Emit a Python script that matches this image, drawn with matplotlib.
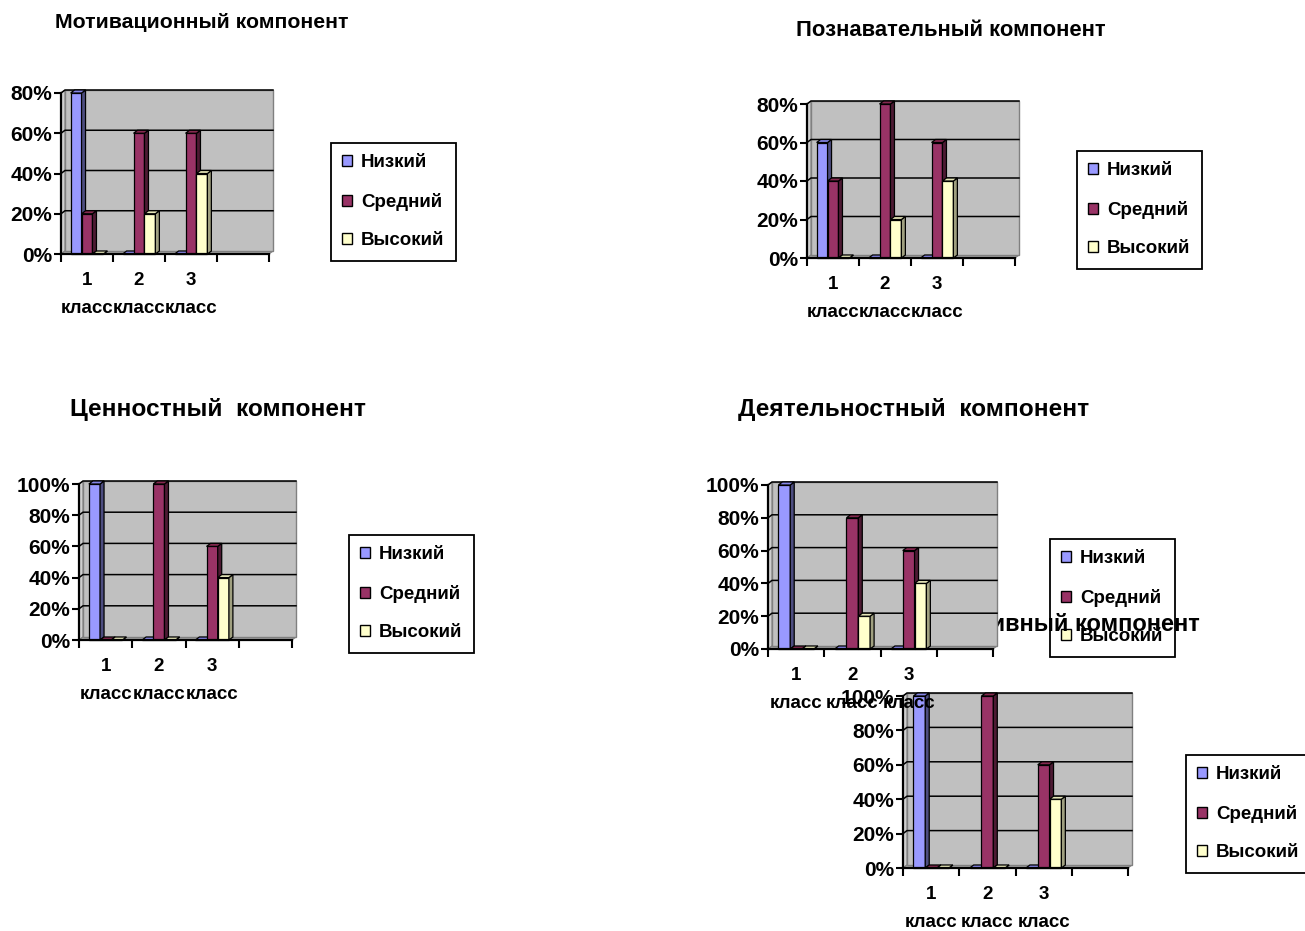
import matplotlib
matplotlib.use("Agg")
import matplotlib.pyplot as plt
from matplotlib.patches import Polygon, Patch

plt.rcParams['font.family'] = ['Liberation Sans', 'DejaVu Sans']
plt.rcParams['font.weight'] = 'bold'

# ---- данные ----
CLASSES = ["1 класс", "2 класс", "3 класс", ""]      # 4-я колонка пустая, как в исходной таблице
LEVELS = ["Низкий", "Средний", "Высокий"]
TITLES = ["Мотивационный компонент", "Познавательный компонент", "Ценностный  компонент",
          "Деятельностный  компонент", "Рефлексивный компонент"]
LOW = [[0.8, 0, 0], [0.6, 0, 0], [1.0, 0, 0], [1.0, 0, 0], [1.0, 0, 0]]
MID = [[0.2, 0.6, 0.6], [0.4, 0.8, 0.6], [0, 1.0, 0.6], [0, 0.8, 0.6], [0, 1.0, 0.6]]
HIGH = [[0, 0.2, 0.4], [0, 0.2, 0.4], [0, 0, 0.4], [0, 0.2, 0.4], [0, 0, 0.4]]
YMAX = [0.8, 0.8, 1.0, 1.0, 1.0]

# ---- оформление (пиксели исходной картинки) ----
W, H = 1305, 931
AX_PX = [(61, 269, 254, 93), (807, 1015, 258, 104), (79, 292, 640, 484),
         (768, 993, 649, 485), (903, 1128, 868, 696)]       # x оси, x конца, y нуля, y максимума
LEG_PX = [(331, 143), (1077, 151), (349, 535), (1050, 539), (1186, 755)]
TITLE_PX = [(55, 22, 'left'), (951, 30, 'center'), (218, 410, 'center'),
            (914, 410, 'center'), (1200, 625, 'right')]
TITLE_FS = [15.3, 15.8, 17.6, 17.6, 17.0]
FACE = ['#9999FF', '#993366', '#FFFFCC']
SIDE = ['#4D4D80', '#4D1A33', '#A0A080']
TOP = ['#8585E6', '#85294F', '#E6E6B8']
DX, DY = 4, 3          # глубина "3D" в пикселях
BW = 0.21
FS_X = 13.5
FS_Y = 15
FS_LEG = 13.5

fig = plt.figure(figsize=(W / 100, H / 100), dpi=100)
fig.patch.set_facecolor('white')


def chart(i):
    x0, x1, yb, yt = AX_PX[i]
    ax = fig.add_axes([x0 / W, 1 - yb / H, (x1 - x0) / W, (yb - yt) / H])
    ax.set_facecolor('none')
    n = len(CLASSES)
    ymax = YMAX[i]
    ax.set_xlim(0, n)
    ax.set_ylim(0, ymax)
    ddx = DX * n / (x1 - x0)
    ddy = DY * ymax / (yb - yt)
    # стенки и пол
    ax.add_patch(Polygon([(0, 0), (ddx, ddy), (ddx, ymax + ddy), (0, ymax)], closed=True,
                         fc='#CFCFCF', ec='#808080', lw=0.8, clip_on=False, zorder=1))
    ax.add_patch(Polygon([(0, 0), (n, 0), (n + ddx, ddy), (ddx, ddy)], closed=True,
                         fc='#A8A8A8', ec='#808080', lw=0.8, clip_on=False, zorder=1))
    ax.add_patch(Polygon([(ddx, ddy), (n + ddx, ddy), (n + ddx, ymax + ddy), (ddx, ymax + ddy)],
                         closed=True, fc='#C0C0C0', ec='#808080', lw=1.0, clip_on=False, zorder=1))
    ticks = [k * 0.2 for k in range(int(round(ymax / 0.2)) + 1)]
    for t in ticks[1:]:
        ax.plot([0, ddx, n + ddx], [t, t + ddy, t + ddy], color='black', lw=1.1,
                clip_on=False, zorder=1.5)
    # столбики
    series = [LOW[i], MID[i], HIGH[i]]
    xs = [k + 0.5 for k in range(len(series[0]))]
    for s, vals in enumerate(series):
        z = 3 + s
        cont = ax.bar([x + (s - 1) * BW for x in xs], vals, BW, color=FACE[s],
                      edgecolor='black', lw=0.9, zorder=z, clip_on=False)
        for r in cont.patches:
            x, w, h = r.get_x(), r.get_width(), r.get_height()
            ax.add_patch(Polygon([(x + w, 0), (x + w + ddx, ddy), (x + w + ddx, h + ddy), (x + w, h)],
                                 closed=True, fc=SIDE[s], ec='black', lw=0.9, zorder=z, clip_on=False))
            ax.add_patch(Polygon([(x, h), (x + w, h), (x + w + ddx, h + ddy), (x + ddx, h + ddy)],
                                 closed=True, fc=TOP[s], ec='black', lw=0.9, zorder=z, clip_on=False))
    # оси
    for sp in ('top', 'right'):
        ax.spines[sp].set_visible(False)
    for sp in ('left', 'bottom'):
        ax.spines[sp].set_linewidth(1.6)
        ax.spines[sp].set_zorder(8)
    ax.set_yticks(ticks)
    ax.set_yticklabels([f"{round(t * 100)}%" for t in ticks], fontsize=FS_Y, fontweight='bold')
    ax.set_xticks(range(n + 1))
    ax.set_xticklabels([])
    ax.set_xticks([k + 0.5 for k in range(n)], minor=True)
    ax.set_xticklabels([c.replace(' ', '\n') for c in CLASSES], minor=True,
                       fontsize=FS_X, fontweight='bold')
    for lab in ax.get_xticklabels(minor=True):
        lab.set_linespacing(1.85)
    ax.tick_params(axis='y', direction='out', length=5, width=1.5, pad=1.5)
    ax.tick_params(axis='x', which='major', direction='out', length=6, width=1.5)
    ax.tick_params(axis='x', which='minor', length=0, pad=13)
    # легенда
    lx, ly = LEG_PX[i]
    handles = [Patch(facecolor=FACE[s], edgecolor='black', lw=1.0) for s in range(3)]
    leg = fig.legend(handles, LEVELS, loc='upper left', bbox_to_anchor=(lx / W, 1 - ly / H),
                     bbox_transform=fig.transFigure, prop={'size': FS_LEG, 'weight': 'bold'},
                     frameon=True, fancybox=False, edgecolor='black', framealpha=1,
                     handlelength=0.5, handleheight=0.5, handletextpad=0.5,
                     labelspacing=1.15, borderpad=0.6, borderaxespad=0)
    leg.get_frame().set_linewidth(1.3)
    tx, ty, ha = TITLE_PX[i]
    title = fig.text(tx / W, 1 - ty / H, TITLES[i], ha=ha, va='center',
                     fontsize=TITLE_FS[i], fontweight='bold')
    return ax, leg, title


parts = [chart(i) for i in range(5)]
# наложение как в исходнике: заголовок 5-й диаграммы поверх легенды 4-й, но под её областью построения
parts[3][1].set_zorder(1)
parts[4][2].set_zorder(2)
parts[3][0].set_zorder(3)

fig.savefig("out.png", dpi=100)
